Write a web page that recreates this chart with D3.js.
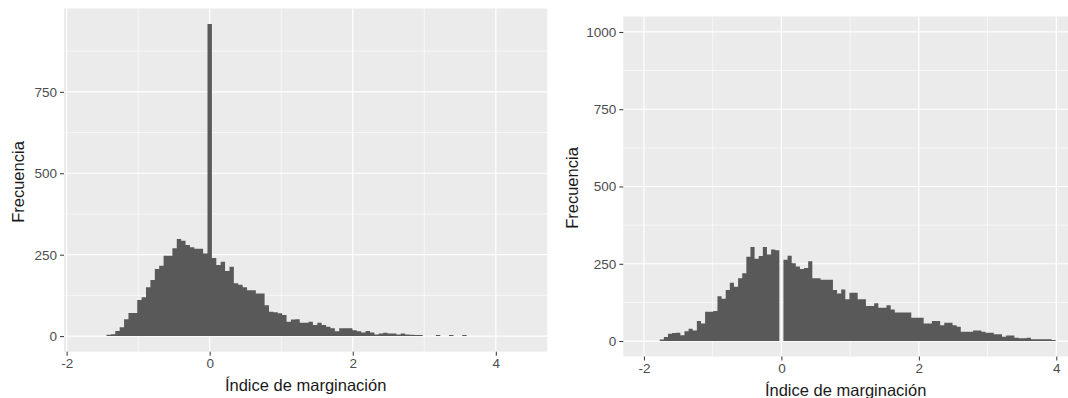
<!DOCTYPE html>
<html>
<head>
<meta charset="utf-8">
<script src="https://cdn.jsdelivr.net/npm/d3@7"></script>
<style>
  html, body { margin: 0; padding: 0; background: #ffffff; }
  svg { display: block; }
  text { font-family: "Liberation Sans", Arial, sans-serif; }
</style>
</head>
<body>
<svg id="chart" width="1068" height="398"></svg>
<script>
// ---------------- data ----------------
const xTickValues = [-2, 0, 2, 4];
const xTickLabels = ["-2", "0", "2", "4"];
const xMinorValues = [-1, 1, 3];

const leftYTicks = [0, 250, 500, 750];
const leftYMinor = [125, 375, 625, 875];
const rightYTicks = [0, 250, 500, 750, 1000];
const rightYMinor = [125, 375, 625, 875];

const xTitle = "Índice de marginación";
const yTitle = "Frecuencia";

// left histogram: bins centred on k*width, first bin index given
const leftBinWidth = 0.0614;
const leftFirstBin = -23;
const leftCounts = [
  4, 6, 16, 27, 52, 71, 71, 111, 119, 150, 172, 206, 216, 247, 247, 270, 298, 293, 280, 273, 268, 268, 254,
  958,
  240, 218, 228, 200, 213, 162, 158, 150, 141, 141, 131, 131, 95, 75, 73, 70, 65, 44, 51, 52, 41, 41, 44, 34,
  41, 34, 29, 24, 15, 24, 24, 24, 18, 15, 11, 16, 11, 5, 8, 10, 8, 8, 5, 8, 5, 4, 3, 3, 0, 0, 0, 3, 0, 0, 3,
  0, 0, 3
];

// right histogram
const rightBinWidth = 0.06;
const rightFirstBin = -29;
const rightCounts = [
  5, 13, 24, 26, 27, 19, 32, 40, 34, 65, 57, 95, 95, 97, 145, 137, 165, 189, 176, 203, 219, 273, 304, 266,
  275, 304, 280, 296, 294,
  0,
  263, 276, 252, 241, 233, 236, 258, 203, 203, 198, 198, 198, 165, 154, 167, 135, 156, 156, 135, 135, 113,
  113, 122, 108, 108, 116, 102, 92, 92, 92, 92, 75, 75, 75, 57, 57, 65, 65, 51, 59, 59, 51, 46, 30, 30, 30,
  34, 34, 30, 27, 27, 22, 22, 14, 18, 18, 11, 9, 9, 11, 6, 6, 6, 6, 6, 3
];

// ---------------- drawing ----------------
const svg = d3.select("#chart");

function drawPanel(opt) {
  const g = svg.append("g");
  const x = d3.scaleLinear().domain(opt.xDomain).range([opt.left, opt.right]);
  const y = d3.scaleLinear().domain(opt.yDomain).range([opt.bottom, opt.top]);

  // background
  g.append("rect")
    .attr("x", opt.left).attr("y", opt.top)
    .attr("width", opt.right - opt.left).attr("height", opt.bottom - opt.top)
    .attr("fill", "#EBEBEB");

  // minor grid
  g.selectAll(".hminor").data(opt.yMinor).enter().append("line")
    .attr("x1", opt.left).attr("x2", opt.right)
    .attr("y1", d => y(d)).attr("y2", d => y(d))
    .attr("stroke", "#ffffff").attr("stroke-width", 0.6);
  g.selectAll(".vminor").data(xMinorValues).enter().append("line")
    .attr("y1", opt.top).attr("y2", opt.bottom)
    .attr("x1", d => x(d)).attr("x2", d => x(d))
    .attr("stroke", "#ffffff").attr("stroke-width", 0.6);
  // major grid
  g.selectAll(".hmajor").data(opt.yTicks).enter().append("line")
    .attr("x1", opt.left).attr("x2", opt.right)
    .attr("y1", d => y(d)).attr("y2", d => y(d))
    .attr("stroke", "#ffffff").attr("stroke-width", 1.2);
  g.selectAll(".vmajor").data(xTickValues).enter().append("line")
    .attr("y1", opt.top).attr("y2", opt.bottom)
    .attr("x1", d => x(d)).attr("x2", d => x(d))
    .attr("stroke", "#ffffff").attr("stroke-width", 1.2);

  // histogram as step area
  const pts = opt.counts.map((c, i) => ({ x0: (opt.firstBin + i - 0.5) * opt.binWidth, c: c }));
  const last = pts[pts.length - 1];
  pts.push({ x0: last.x0 + opt.binWidth, c: last.c });
  const area = d3.area()
    .x(d => x(d.x0))
    .y0(y(0))
    .y1(d => y(d.c))
    .curve(d3.curveStepAfter);
  g.append("path").datum(pts).attr("d", area).attr("fill", "#595959");

  // axes
  const xAxis = d3.axisBottom(x).tickValues(xTickValues)
    .tickFormat((d, i) => xTickLabels[i]).tickSize(4).tickPadding(3);
  const xg = g.append("g").attr("transform", `translate(0,${opt.bottom})`).call(xAxis);
  xg.select(".domain").remove();
  xg.selectAll(".tick line").attr("stroke", "#333333").attr("stroke-width", 1);
  xg.selectAll(".tick text").attr("fill", "#4D4D4D").style("font-size", "13.5px")
    .style("font-family", "'Liberation Sans', Arial, sans-serif");

  const yAxis = d3.axisLeft(y).tickValues(opt.yTicks).tickFormat(d3.format("d"))
    .tickSize(4).tickPadding(3);
  const yg = g.append("g").attr("transform", `translate(${opt.left},0)`).call(yAxis);
  yg.select(".domain").remove();
  yg.selectAll(".tick line").attr("stroke", "#333333").attr("stroke-width", 1);
  yg.selectAll(".tick text").attr("fill", "#4D4D4D").style("font-size", "13.5px")
    .style("font-family", "'Liberation Sans', Arial, sans-serif");

  // titles
  g.append("text")
    .attr("x", (opt.left + opt.right) / 2).attr("y", opt.xTitleY)
    .attr("text-anchor", "middle").attr("fill", "#1a1a1a")
    .style("font-size", "16.5px").text(xTitle);
  g.append("text")
    .attr("transform", `translate(${opt.yTitleX},${opt.yTitleCY}) rotate(-90)`)
    .attr("text-anchor", "middle").attr("fill", "#1a1a1a")
    .style("font-size", "16.5px").text(yTitle);
}

const leftMax = d3.max(leftCounts);
drawPanel({
  left: 64, right: 547.3, top: 8.5, bottom: 351.7,
  xDomain: [-2.037, 4.72],
  yDomain: [-0.05 * leftMax, 1.05 * leftMax],
  yTicks: leftYTicks, yMinor: leftYMinor,
  counts: leftCounts, firstBin: leftFirstBin, binWidth: leftBinWidth,
  xTitleY: 391, yTitleX: 24, yTitleCY: 182
});

drawPanel({
  left: 623.3, right: 1068, top: 16.5, bottom: 356.5,
  xDomain: [-2.30, 4.17],
  yDomain: [-50, 1050],
  yTicks: rightYTicks, yMinor: rightYMinor,
  counts: rightCounts, firstBin: rightFirstBin, binWidth: rightBinWidth,
  xTitleY: 396, yTitleX: 578, yTitleCY: 188
});
</script>
</body>
</html>
